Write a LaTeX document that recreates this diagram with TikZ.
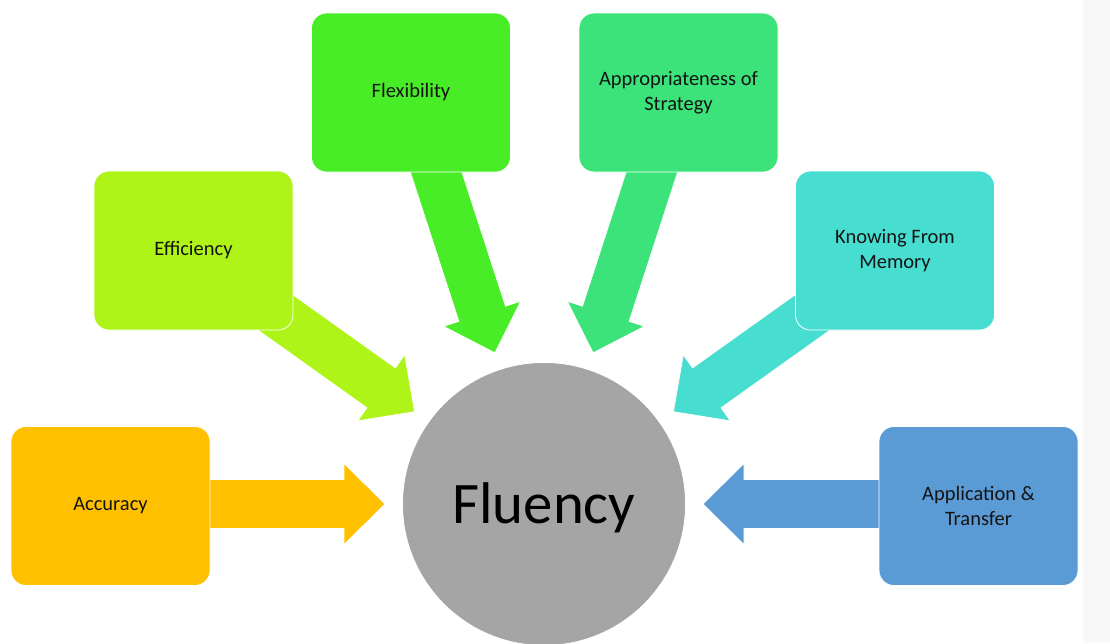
\documentclass[tikz,border=0pt]{standalone}
\usepackage{fontspec}
\setmainfont{Carlito}
\definecolor{accC}{HTML}{FFC000}
\definecolor{effC}{HTML}{AFF419}
\definecolor{flexC}{HTML}{48EC27}
\definecolor{apprC}{HTML}{3CE37A}
\definecolor{knowC}{HTML}{48DDD1}
\definecolor{appC}{HTML}{5B9BD5}
\definecolor{circC}{HTML}{A5A5A5}
\definecolor{stripC}{HTML}{F8F8F8}
\definecolor{txtC}{HTML}{141414}
\newcommand{\blockarrow}[2]{%
  \begin{scope}[shift={(c)}, rotate=#2]
    \fill[#1, draw=white, line width=0.7pt]
      (-159,0) -- (-200,40.5) -- (-200,24.5) -- (-380,24.5)
      -- (-380,-24.5) -- (-200,-24.5) -- (-200,-40.5) -- cycle;
  \end{scope}}
\tikzset{
  box/.style={rectangle, rounded corners=15pt, draw=white, line width=0.8pt,
    minimum width=199pt, minimum height=159pt, inner sep=0pt,
    align=center, text=txtC,
    font=\fontsize{20.5}{24.5}\selectfont},
}
\begin{document}
\begin{tikzpicture}[x=1pt, y=-1pt]
\useasboundingbox (0,0) rectangle (1110,643);
\clip (0,0) rectangle (1110,643);
\fill[stripC] (1083,0) rectangle (1110,643);
\coordinate (c) at (544,504);
% arrows (behind boxes)
\blockarrow{accC}{0}
\blockarrow{effC}{-35.5}
\blockarrow{flexC}{-72}
\blockarrow{apprC}{-108}
\blockarrow{knowC}{-144.5}
\blockarrow{appC}{-180}
% boxes
\node[box, fill=accC]  (acc)  at (110.5,506)  {Accuracy};
\node[box, fill=effC]  (eff)  at (193.5,250.5) {Efficiency};
\node[box, fill=flexC] (flex) at (411,92.5)   {Flexibility};
\node[box, fill=apprC] (appr) at (678.5,92.5) {Appropriateness of\\Strategy};
\node[box, fill=knowC] (know) at (895,250.5)  {Knowing From\\Memory};
\node[box, fill=appC]  (app)  at (978.5,506)  {Application \&\\Transfer};
% centre circle
\node[circle, fill=circC, draw=white, line width=0.8pt, minimum size=283pt, inner sep=0pt] (fluency) at (c) {};
\node[text=black, inner sep=0pt, font=\fontsize{58.8}{70}\selectfont] (fluencytxt) at (544,507.5) {Fluency};
\end{tikzpicture}
\end{document}
